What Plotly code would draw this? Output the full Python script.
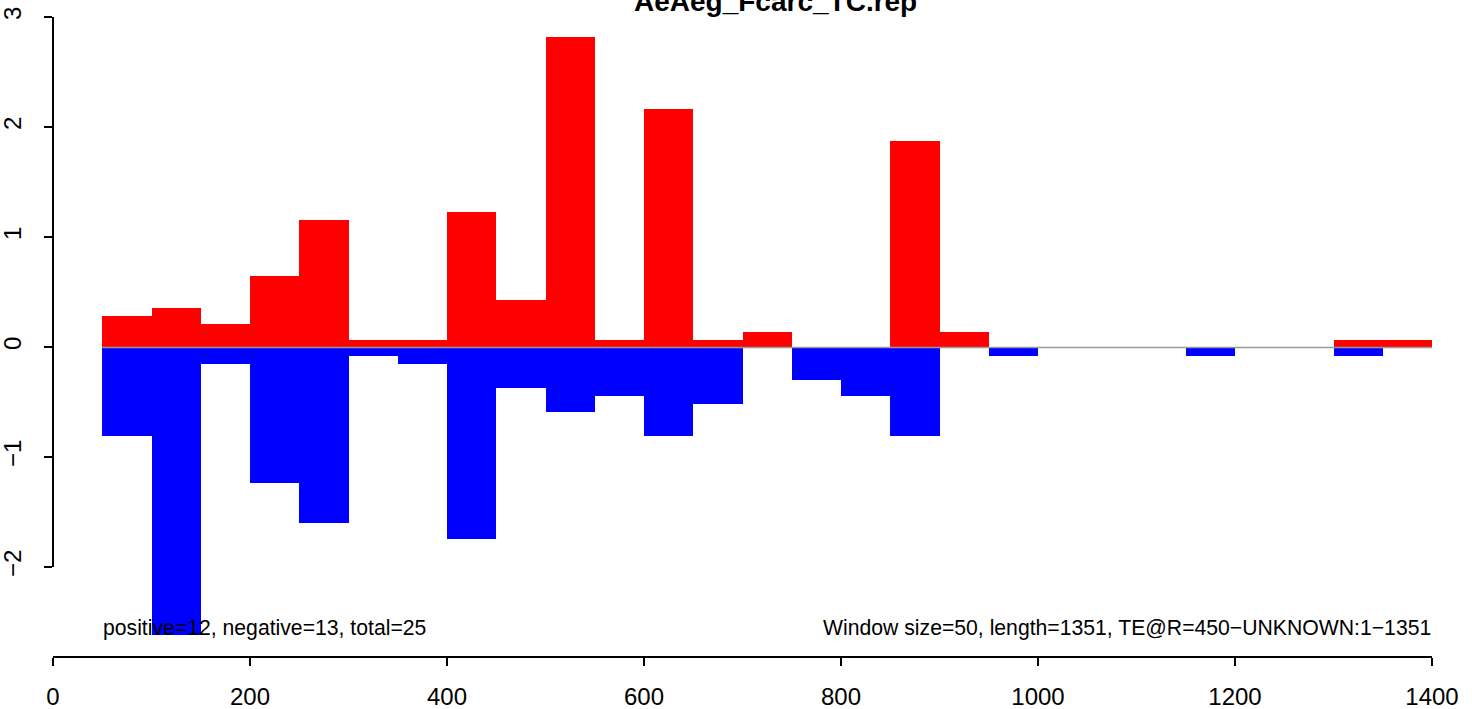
import plotly.graph_objects as go

# ---- data ----
bin_start = [50, 100, 150, 200, 250, 300, 350, 400, 450, 500, 550, 600, 650, 700,
             750, 800, 850, 900, 950, 1000, 1050, 1100, 1150, 1200, 1250, 1300, 1350]
positive = [0.286, 0.359, 0.214, 0.65, 1.159, 0.068, 0.068, 1.232, 0.432, 2.823, 0.068,
            2.168, 0.068, 0.141, 0, 0, 1.877, 0.141, 0, 0, 0, 0, 0, 0, 0, 0.068, 0.068]
negative = [-0.805, -2.614, -0.15, -1.23, -1.595, -0.075, -0.15, -1.74, -0.368, -0.586,
            -0.44, -0.805, -0.514, 0, -0.295, -0.44, -0.805, 0, -0.075, 0, 0, 0,
            -0.075, 0, 0, -0.075, 0]
window = 50
x_ticks = [0, 200, 400, 600, 800, 1000, 1200, 1400]
y_ticks = [-2, -1, 0, 1, 2, 3]
title = "AeAeg_Fcarc_TC.rep"
left_note = "positive=12, negative=13, total=25"
right_note = "Window size=50, length=1351, TE@R=450\u2212UNKNOWN:1\u22121351"

W, H = 1472, 709
FONT = "Liberation Sans, Arial, sans-serif"

centers = [s + window / 2 for s in bin_start]

fig = go.Figure()
# baseline
fig.add_trace(go.Scatter(x=[bin_start[0], bin_start[-1] + window], y=[0, 0], mode="lines",
                         line=dict(color="#999999", width=1.6), hoverinfo="skip",
                         showlegend=False, xaxis="x", yaxis="y"))
fig.add_trace(go.Bar(x=centers, y=positive, width=window, base=0,
                     marker=dict(color="#FF0000", line=dict(width=0)),
                     showlegend=False, xaxis="x", yaxis="y"))
fig.add_trace(go.Bar(x=centers, y=negative, width=window, base=0,
                     marker=dict(color="#0000FF", line=dict(width=0)),
                     showlegend=False, xaxis="x", yaxis="y"))
# invisible trace to carry the visible y axis
fig.add_trace(go.Scatter(x=[None], y=[None], mode="markers", showlegend=False,
                         hoverinfo="skip", xaxis="x", yaxis="y2"))

# pixel geometry
x0_px, x1400_px = 53, 1432
y0_px = 347.5
ppu = 110.0
yr_top = (y0_px - 0) / ppu
yr_bot = (y0_px - H) / ppu

fig.update_layout(
    width=W, height=H,
    margin=dict(l=0, r=0, t=0, b=0, autoexpand=False),
    paper_bgcolor="white", plot_bgcolor="rgba(0,0,0,0)",
    barmode="overlay", bargap=0,
    font=dict(family=FONT, color="black", size=24),
    xaxis=dict(domain=[x0_px / W, x1400_px / W], range=[0, 1400],
               anchor="free", position=(H - 657) / H, automargin=False,
               showline=True, linecolor="black", linewidth=1.5,
               ticks="outside", ticklen=8, tickwidth=1.5, tickcolor="black",
               tickvals=x_ticks, ticktext=[str(v) for v in x_ticks],
               tickfont=dict(size=24), ticklabelstandoff=10,
               showgrid=False, zeroline=False),
    yaxis=dict(domain=[0, 1], range=[yr_bot, yr_top], visible=False, automargin=False,
               showgrid=False, zeroline=False),
    yaxis2=dict(domain=[(H - 567) / H, (H - 17) / H], range=[-2, 3],
                anchor="free", position=x0_px / W, side="left", automargin=False,
                showline=True, linecolor="black", linewidth=1.5,
                ticks="outside", ticklen=8, tickwidth=1.5, tickcolor="black",
                tickvals=y_ticks, ticktext=[str(v).replace("-", "\u2212") for v in y_ticks],
                tickangle=-90, tickfont=dict(size=24), ticklabelstandoff=14,
                showgrid=False, zeroline=False),
    annotations=[
        dict(text="<b>" + title + "</b>", x=775 / W, y=1 - 2 / H, xref="paper", yref="paper",
             xanchor="center", yanchor="middle", showarrow=False,
             font=dict(size=28, family=FONT)),
        dict(text=left_note, x=101 / W, y=1 - 628 / H, xref="paper", yref="paper",
             xanchor="left", yanchor="middle", showarrow=False,
             font=dict(size=21.2, family=FONT)),
        dict(text=right_note, x=1433 / W, y=1 - 628 / H, xref="paper", yref="paper",
             xanchor="right", yanchor="middle", showarrow=False,
             font=dict(size=21.2, family=FONT)),
    ],
)

fig.write_html("out.html", config={"displayModeBar": False},
               post_script="document.body.style.margin='0';")
